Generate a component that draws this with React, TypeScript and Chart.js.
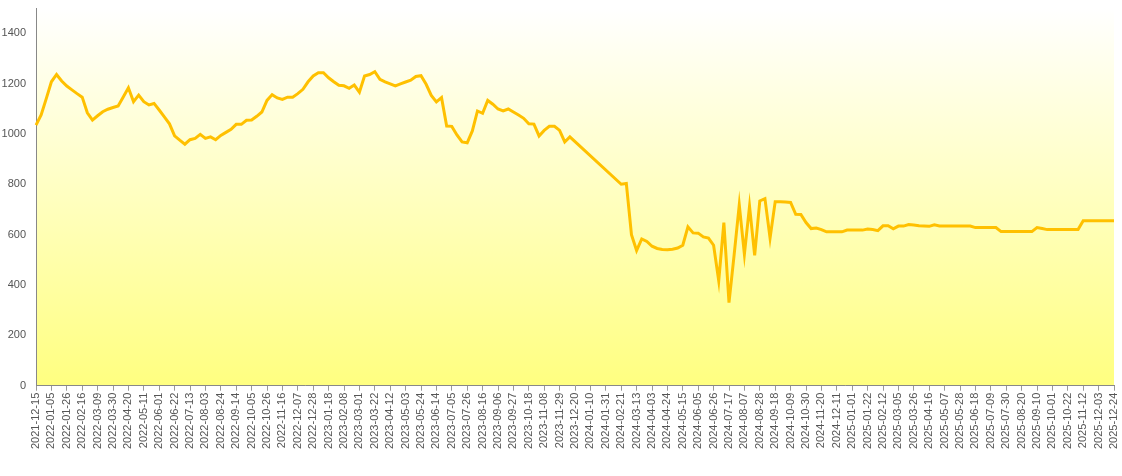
import React, { useEffect, useRef } from "react";
import { Chart, registerables } from "chart.js";

Chart.register(...registerables);

const START_DATE = "2021-12-15";
const WEEK_COUNT = 211;
const LABEL_EVERY = 3;

const prices: (number | null)[] = [
  1035, 1075, 1140, 1207, 1236, 1210, 1190, 1175, 1160, 1146,
  1084, 1055, 1072, 1088, 1098, 1105, 1111, 1147, 1183, 1128,
  1154, 1128, 1115, 1121, 1095, 1068, 1040, 992, 975, 959,
  977, 982, 998, 982, 988, 977, 994, 1006, 1018, 1038,
  1038, 1054, 1055, 1070, 1087, 1133, 1156, 1143, 1137, 1146,
  1146, 1160, 1177, 1207, 1230, 1243, 1243, 1223, 1207, 1193,
  1191, 1181, 1194, 1166, 1230, 1236, 1247, 1217, 1207, 1199,
  1191, 1199, 1206, 1213, 1228, 1231, 1197, 1153, 1127, 1144,
  1031, 1030, 996, 968, 965, 1012, 1091, 1082, 1133, 1118,
  1099, 1091, 1099, 1087, 1075, 1062, 1040, 1039, 992, 1014,
  1030, 1030, 1014, 968, 988, null, null, null, null, null,
  null, null, null, null, 800, 803, 600, 537, 583, 573,
  554, 545, 541, 540, 542, 547, 558, 631, 607, 606,
  591, 586, 558, 417, 648, 330, 520, 718, 522, 713,
  518, 734, 743, 586, 731, 731, 730, 728, 681, 680,
  648, 624, 626, 620, 611, 611, 611, 611, 618, 618,
  618, 618, 622, 620, 616, 635, 635, 623, 634, 634,
  640, 638, 635, 634, 633, 639, 634, 634, 634, 634,
  634, 634, 634, 628, 628, 628, 628, 628, 612, 612,
  612, 612, 612, 612, 612, 628, 624, 620, 620, 620,
  620, 620, 620, 620, 655, 655, 655, 655, 655, 655,
  655,
];

const Y_MIN = 0;
const Y_MAX = 1500;
const Y_STEP = 200;

function buildLabels(): string[] {
  const out: string[] = [];
  const d = new Date(START_DATE + "T00:00:00Z");
  for (let i = 0; i < WEEK_COUNT; i++) {
    const t = new Date(d.getTime() + i * 7 * 86400000);
    out.push(t.toISOString().slice(0, 10));
  }
  return out;
}

const labels = buildLabels();

const bgPlugin = {
  id: "areaGradient",
  beforeDraw(chart: any) {
    const { ctx, chartArea } = chart;
    if (!chartArea) return;
    const g = ctx.createLinearGradient(0, chartArea.top, 0, chartArea.bottom);
    g.addColorStop(0, "#ffffff");
    g.addColorStop(1, "#ffff80");
    ctx.save();
    ctx.fillStyle = g;
    ctx.fillRect(chartArea.left, chartArea.top, chartArea.right - chartArea.left, chartArea.bottom - chartArea.top);
    ctx.restore();
  },
};

const FONT = { family: "Arial, 'Liberation Sans', sans-serif", size: 11 };

export default function App() {
  const ref = useRef<HTMLCanvasElement | null>(null);
  useEffect(() => {
    document.body.style.margin = "0";
    if (!ref.current) return;
    const chart = new Chart(ref.current, {
      type: "line",
      data: {
        labels,
        datasets: [
          {
            data: prices,
            borderColor: "#ffc000",
            borderWidth: 3,
            pointRadius: 0,
            tension: 0,
            spanGaps: true,
            fill: false,
          },
        ],
      },
      options: {
        animation: false,
        responsive: true,
        maintainAspectRatio: false,
        layout: { padding: { top: 8, right: 8, bottom: 25, left: 0 } },
        plugins: { legend: { display: false }, tooltip: { enabled: false } },
        scales: {
          x: {
            offset: false,
            grid: { display: true, drawOnChartArea: false, drawTicks: true, tickLength: 5, color: "#999" },
            border: { display: true, color: "#888" },
            afterBuildTicks: (scale: any) => {
              scale.ticks = scale.ticks.filter((t: any) => t.value % LABEL_EVERY === 0);
            },
            afterFit: (scale: any) => {
              scale.paddingRight = 0;
              scale.paddingLeft = 0;
            },
            ticks: {
              autoSkip: false,
              maxRotation: 90,
              minRotation: 90,
              color: "#555",
              padding: 2,
              font: FONT,
            },
          },
          y: {
            min: Y_MIN,
            max: Y_MAX,
            grid: { display: false, drawTicks: false },
            border: { display: true, color: "#888" },
            afterBuildTicks: (scale: any) => {
              scale.ticks = scale.ticks.filter((t: any) => t.value % Y_STEP === 0);
            },
            afterFit: (scale: any) => {
              scale.paddingTop = 0;
              scale.width = 36;
            },
            ticks: {
              stepSize: Y_STEP,
              color: "#555",
              padding: 10,
              font: FONT,
              callback: (v: any) => String(v),
            },
          },
        },
      },
      plugins: [bgPlugin],
    });
    return () => chart.destroy();
  }, []);
  return (
    <div style={{ position: "absolute", left: 0, top: 0, width: 1122, height: 476 }}>
      <canvas ref={ref} />
    </div>
  );
}
